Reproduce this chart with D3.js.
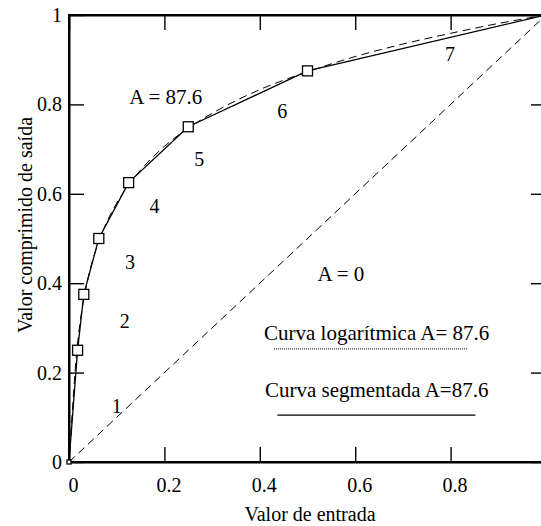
<!DOCTYPE html>
<html>
<head>
<meta charset="utf-8">
<script src="https://cdn.jsdelivr.net/npm/d3@7"></script>
<style>
  body { margin: 0; background: #fff; }
  svg { display: block; overflow: hidden; }
  text { font-family: "Liberation Serif", "Times New Roman", serif; font-size: 20px; fill: #000; }
  text.note { font-size: 21px; }
</style>
</head>
<body>
<svg id="chart" width="541" height="526"></svg>
<script>
// segmented (13-segment) curve, A = 87.6
const segX = [0, 0.018, 0.031, 0.0625, 0.125, 0.25, 0.5, 1];
const segY = [0, 0.25, 0.375, 0.5, 0.625, 0.75, 0.875, 1];

// logarithmic curve, A = 87.6
const logX = [0, 0.005, 0.0114, 0.015, 0.02, 0.03, 0.04, 0.05, 0.0625, 0.075, 0.1, 0.125, 0.15, 0.2, 0.25, 0.3, 0.4, 0.5, 0.6, 0.7, 0.8, 0.9, 1];
const logY = [0, 0.080, 0.183, 0.233, 0.285, 0.359, 0.412, 0.453, 0.493, 0.527, 0.579, 0.620, 0.653, 0.706, 0.747, 0.780, 0.833, 0.873, 0.907, 0.935, 0.959, 0.981, 1];

// A = 0 (linear)
const linX = [0, 1];
const linY = [0, 1];

// segment numbers
const segLabels = ["1", "2", "3", "4", "5", "6", "7"];
const segLabelX = [0.100, 0.117, 0.128, 0.179, 0.273, 0.447, 0.799];
const segLabelY = [0.110, 0.300, 0.432, 0.557, 0.663, 0.770, 0.897];

const xTicks = [0, 0.2, 0.4, 0.6, 0.8, 1];
const yTicks = [0, 0.2, 0.4, 0.6, 0.8, 1];

let svg = d3.select("#chart");

let x = d3.scaleLinear().domain([0, 1]).range([69, 546]);
let y = d3.scaleLinear().domain([0, 1]).range([462, 15]);

let fmt = d => d === 0 ? "0" : d === 1 ? "1" : d3.format(".1f")(d);

// axes (ticks inward)
let gx = svg.append("g")
    .attr("transform", "translate(0," + y(0) + ")")
    .call(d3.axisBottom(x).tickValues(xTicks.filter(d => d < 1)).tickSize(-15).tickSizeOuter(0).tickPadding(16).tickFormat(fmt));
gx.selectAll("text").attr("dx", 4);

let gy = svg.append("g")
    .attr("transform", "translate(" + x(0) + ",0)")
    .call(d3.axisLeft(y).tickValues(yTicks).tickSize(-15).tickSizeOuter(0).tickPadding(7).tickFormat(fmt));

svg.append("g")
    .attr("transform", "translate(0," + y(1) + ")")
    .call(d3.axisTop(x).tickValues(xTicks).tickSize(-15).tickSizeOuter(0).tickFormat(""));

svg.append("g")
    .attr("transform", "translate(" + x(1) + ",0)")
    .call(d3.axisRight(y).tickValues(yTicks).tickSize(-15).tickSizeOuter(0).tickFormat(""));

svg.selectAll(".domain").attr("stroke-width", 2);
svg.selectAll(".tick line").attr("stroke-width", 1.4);
svg.selectAll(".tick text").style("font-family", "'Liberation Serif', serif").style("font-size", "20px");

// frame
svg.append("rect")
    .attr("x", x(0)).attr("y", y(1))
    .attr("width", x(1) - x(0)).attr("height", y(0) - y(1))
    .attr("fill", "none").attr("stroke", "#000").attr("stroke-width", 2);

let line = d3.line().x(d => x(d[0])).y(d => y(d[1]));

// A = 0 diagonal
svg.append("path")
    .datum(linX.map((d, i) => [d, linY[i]]))
    .attr("d", line)
    .attr("fill", "none").attr("stroke", "#000").attr("stroke-width", 1)
    .attr("stroke-dasharray", "8,5");

// log curve
svg.append("path")
    .datum(logX.map((d, i) => [d, logY[i]]))
    .attr("d", line.curve(d3.curveMonotoneX))
    .attr("fill", "none").attr("stroke", "#000").attr("stroke-width", 1)
    .attr("stroke-dasharray", "8,5");
line.curve(d3.curveLinear);

// segmented curve
let segData = segX.map((d, i) => [d, segY[i]]);
svg.append("path")
    .datum(segData)
    .attr("d", line)
    .attr("fill", "none").attr("stroke", "#000").attr("stroke-width", 1.3);

svg.selectAll(".mark")
    .data(segData.slice(0, -1))
    .enter().append("rect")
    .attr("class", "mark")
    .attr("x", (d, i) => x(d[0]) - (i === 0 ? 2 : 5))
    .attr("y", (d, i) => y(d[1]) - (i === 0 ? 2 : 5))
    .attr("width", (d, i) => i === 0 ? 4 : 10)
    .attr("height", (d, i) => i === 0 ? 4 : 10)
    .attr("fill", "#fff").attr("stroke", "#000").attr("stroke-width", 1.3);

// segment numbers
svg.selectAll(".seglabel")
    .data(segLabels)
    .enter().append("text")
    .attr("class", "seglabel")
    .attr("x", (d, i) => x(segLabelX[i]))
    .attr("y", (d, i) => y(segLabelY[i]))
    .attr("text-anchor", "middle")
    .text(d => d);

// annotations
svg.append("text").attr("class", "note").attr("x", x(0.203)).attr("y", y(0.801)).attr("text-anchor", "middle").text("A = 87.6");
svg.append("text").attr("class", "note").attr("x", x(0.570)).attr("y", y(0.405)).attr("text-anchor", "middle").text("A = 0");

svg.append("text").attr("class", "note").attr("x", x(0.645)).attr("y", y(0.274)).attr("text-anchor", "middle").text("Curva logarítmica A= 87.6");
svg.append("line")
    .attr("x1", x(0.430)).attr("x2", x(0.836))
    .attr("y1", y(0.253)).attr("y2", y(0.253))
    .attr("stroke", "#000").attr("stroke-width", 1).attr("stroke-dasharray", "1,1");

svg.append("text").attr("class", "note").attr("x", x(0.645)).attr("y", y(0.146)).attr("text-anchor", "middle").text("Curva segmentada A=87.6");
svg.append("line")
    .attr("x1", x(0.437)).attr("x2", x(0.852))
    .attr("y1", y(0.105)).attr("y2", y(0.105))
    .attr("stroke", "#000").attr("stroke-width", 1.3);

// axis titles
svg.append("text")
    .attr("x", 310).attr("y", 521)
    .attr("text-anchor", "middle")
    .text("Valor de entrada");

svg.append("text")
    .attr("transform", "translate(32,225) rotate(-90)")
    .attr("text-anchor", "middle")
    .text("Valor comprimido de saída");
</script>
</body>
</html>
